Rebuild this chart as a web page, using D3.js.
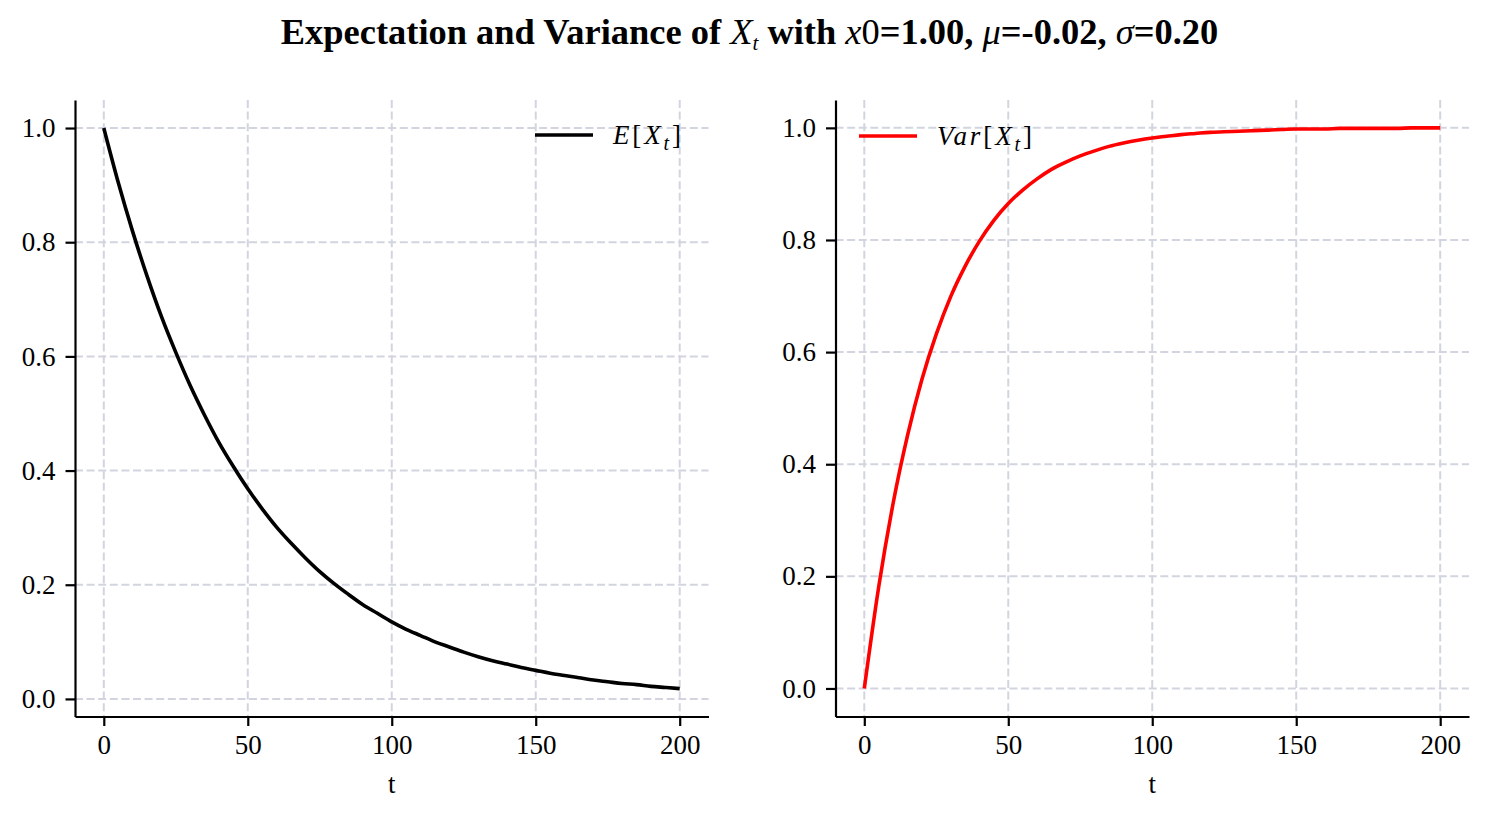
<!DOCTYPE html>
<html><head><meta charset="utf-8">
<script src="https://cdn.jsdelivr.net/npm/d3@7"></script>
<style>body{margin:0;background:#fff}svg{display:block}</style>
</head><body>
<svg id="c" width="1489" height="818"></svg>
<script>
// ---- data ----
const tValues = [0,5,10,15,20,25,30,35,40,45,50,55,60,65,70,75,80,85,90,95,100,105,110,115,120,125,130,135,140,145,150,155,160,165,170,175,180,185,190,195,200];
const expectation = [1.000,0.905,0.819,0.741,0.670,0.607,0.549,0.497,0.449,0.407,0.368,0.333,0.301,0.273,0.247,0.223,0.202,0.183,0.165,0.150,0.135,0.122,0.111,0.100,0.091,0.082,0.074,0.067,0.061,0.055,0.050,0.045,0.041,0.037,0.033,0.030,0.027,0.025,0.022,0.020,0.018];
const variance = [0.000,0.181,0.330,0.451,0.551,0.632,0.699,0.753,0.798,0.835,0.865,0.889,0.909,0.926,0.939,0.950,0.959,0.967,0.973,0.978,0.982,0.985,0.988,0.990,0.992,0.993,0.994,0.995,0.996,0.997,0.998,0.998,0.998,0.999,0.999,0.999,0.999,0.999,1.000,1.000,1.000];
const xTicks = [0,50,100,150,200];
const yTicks = [0.0,0.2,0.4,0.6,0.8,1.0];
const xLabel = "t";

const svg = d3.select("#c");
const FONT = "'Liberation Serif','Times New Roman',serif";
const GRID = "#d2d5df";

function panel(opts){
  const g = svg.append("g");
  const x = d3.scaleLinear().domain([-10,210]).range([opts.left, opts.left+633.5]);
  const y = d3.scaleLinear().domain(opts.yDomain).range([716.5, 100]);
  // grid
  g.append("g").selectAll("line.gx").data(xTicks).join("line")
    .attr("x1",d=>x(d)).attr("x2",d=>x(d)).attr("y1",100).attr("y2",716.5)
    .attr("stroke",GRID).attr("stroke-width",2).attr("stroke-dasharray","8,3.6");
  g.append("g").selectAll("line.gy").data(yTicks).join("line")
    .attr("y1",d=>y(d)).attr("y2",d=>y(d)).attr("x1",x.range()[0]).attr("x2",x.range()[1])
    .attr("stroke",GRID).attr("stroke-width",2).attr("stroke-dasharray","8,3.6");
  // line
  const line = d3.line().x((d,i)=>x(tValues[i])).y(d=>y(d)).curve(d3.curveMonotoneX);
  g.append("path").datum(opts.values).attr("d",line).attr("fill","none")
    .attr("stroke",opts.color).attr("stroke-width",3.6);
  // axes
  const xa = g.append("g").attr("transform",`translate(0,716.5)`)
    .call(d3.axisBottom(x).tickValues(xTicks).tickFormat(d3.format("d")).tickSize(9.5).tickPadding(8).tickSizeOuter(0));
  const ya = g.append("g").attr("transform",`translate(${opts.left},0)`)
    .call(d3.axisLeft(y).tickValues(yTicks).tickFormat(d3.format(".1f")).tickSize(9.5).tickPadding(10).tickSizeOuter(0));
  [xa,ya].forEach(a=>{
    a.select(".domain").attr("stroke","#000").attr("stroke-width",2.2);
    a.selectAll(".tick line").attr("stroke","#000").attr("stroke-width",2.2);
    a.selectAll(".tick text").attr("font-family",FONT).attr("font-size",27).attr("fill","#000");
  });
  xa.selectAll(".tick text").attr("dy","0.75em");
  g.append("text").attr("x",(x.range()[0]+x.range()[1])/2).attr("y",793)
    .attr("text-anchor","middle").attr("font-family",FONT).attr("font-size",27).text(xLabel);
  // legend
  g.append("line").attr("x1",opts.legX).attr("x2",opts.legX+58).attr("y1",opts.legY).attr("y2",opts.legY)
    .attr("stroke",opts.color).attr("stroke-width",3.6);
  const lt = g.append("text").attr("x",opts.legX+78).attr("y",opts.legY+9)
    .attr("font-family",FONT).attr("font-size",27)
    .attr("textLength",opts.legW).attr("lengthAdjust","spacing");
  opts.legend(lt);
}

function legendText(name){
  return t=>{
    t.append("tspan").attr("font-style","italic").text(name);
    t.append("tspan").text("[");
    t.append("tspan").attr("font-style","italic").text("X");
    t.append("tspan").attr("font-style","italic").attr("font-size",20).attr("dy",6).text("t");
    t.append("tspan").attr("dy",-6).text("]");
  };
}

panel({left:75, yDomain:[-0.0308,1.0491], values:expectation, color:"#000", legX:535, legY:135, legW:68,
  legend:legendText("E")});
panel({left:835.5, yDomain:[-0.05,1.0497], values:variance, color:"#ff0000", legX:859, legY:136, legW:95,
  legend:legendText("Var")});

// title
const title = svg.append("text").attr("x",749.5).attr("y",44).attr("text-anchor","middle")
  .attr("font-family",FONT).attr("font-size",30).attr("fill","#000");
const parts = [
  ["Expectation and Variance of ","b"],["X","i"],["t","sub"],[" with ","b"],["x","i"],["0","r"],
  ["=1.00, ","b"],["μ","i"],["=-0.02, ","b"],["σ","i"],["=0.20","b"]
];
let shifted=false;
parts.forEach(([s,k])=>{
  const ts = title.append("tspan").text(s).attr("xml:space","preserve");
  if(k==="b") ts.attr("font-weight","bold");
  if(k==="i") ts.attr("font-style","italic");
  if(k==="sub"){ ts.attr("font-style","italic").attr("font-size",21).attr("dy",6); shifted=true; return; }
  if(shifted){ ts.attr("dy",-6); shifted=false; }
});
const w = title.node().getComputedTextLength();
title.attr("font-size",30*939/w);
</script>
</body></html>
